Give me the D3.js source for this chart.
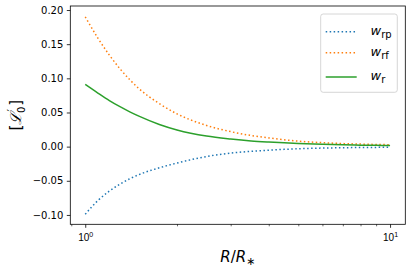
<!DOCTYPE html>
<html>
<head>
<meta charset="utf-8">
<script src="https://cdn.jsdelivr.net/npm/d3@7"></script>
<style>
  body { margin: 0; background: #fff; }
  svg { display: block; font-family: "DejaVu Sans", sans-serif; }
</style>
</head>
<body>
<svg id="chart" width="413" height="272"></svg>
<script>
// values
const radius = [1, 1.1, 1.2, 1.3, 1.4, 1.5, 1.75, 2, 2.5, 3, 3.5, 4, 5, 6, 7, 8, 9, 10];
const wRp = [-0.099, -0.079, -0.065, -0.055, -0.047, -0.041, -0.031, -0.024, -0.0145, -0.0095, -0.0069, -0.0052, -0.0031, -0.0021, -0.0016, -0.0013, -0.0011, -0.0010];
const wRf = [0.190, 0.159, 0.134, 0.114, 0.098, 0.085, 0.063, 0.048, 0.031, 0.022, 0.0163, 0.0128, 0.0080, 0.0058, 0.0045, 0.0037, 0.0032, 0.0028];
const wR  = [0.091, 0.0785, 0.0675, 0.0585, 0.051, 0.0447, 0.0325, 0.0245, 0.0155, 0.0112, 0.0084, 0.0067, 0.0045, 0.0034, 0.0027, 0.0022, 0.0019, 0.0017];
const yTicks = [-0.10, -0.05, 0.00, 0.05, 0.10, 0.15, 0.20];
const xTicks = [1, 10];

const series = [
  {sub: 'rp', values: wRp, color: '#1f77b4', dash: '1.5,2.475'},
  {sub: 'rf', values: wRf, color: '#ff7f0e', dash: '1.5,2.475'},
  {sub: 'r',  values: wR,  color: '#2ca02c', dash: null}
];

const dims = {width: 413, height: 272, left: 70.3, right: 405.3, top: 6, bottom: 224.3};

const svg = d3.select('#chart');

const xScale = d3.scaleLog()
  .domain([Math.pow(10, -0.049), Math.pow(10, 1.05)])
  .range([dims.left, dims.right]);
const yScale = d3.scaleLinear()
  .domain([-0.1137, 0.2059])
  .range([dims.bottom, dims.top]);

const fmt = (v) => v.toFixed(2).replace('-', '\u2212');

// y axis
const yAxis = svg.append('g').attr('transform', `translate(${dims.left},0)`)
  .call(d3.axisLeft(yScale).tickValues(yTicks).tickSize(3.5).tickPadding(3.5).tickFormat(fmt));
yAxis.select('.domain').remove();
yAxis.selectAll('line').attr('stroke', '#000').attr('stroke-width', 0.8);
yAxis.selectAll('text').attr('font-size', 10).attr('fill', '#000')
  .attr('font-family', '"DejaVu Sans", sans-serif');

// x axis, minor ticks
const minor = [0.9];
for (let d = 1; d <= 10; d *= 10)
  for (let k = 2; k < 10; k++)
    minor.push(k * d);
const [lo, hi] = xScale.domain();
const minorTicks = minor.filter(v => v >= lo && v <= hi);

const xMinor = svg.append('g').attr('transform', `translate(0,${dims.bottom})`)
  .call(d3.axisBottom(xScale).tickValues(minorTicks).tickSize(2).tickFormat(''));
xMinor.select('.domain').remove();
xMinor.selectAll('line').attr('stroke', '#000').attr('stroke-width', 0.6);

const xAxis = svg.append('g').attr('transform', `translate(0,${dims.bottom})`)
  .call(d3.axisBottom(xScale).tickValues(xTicks).tickSize(3.5).tickFormat(''));
xAxis.select('.domain').remove();
xAxis.selectAll('line').attr('stroke', '#000').attr('stroke-width', 0.8);
xAxis.selectAll('.tick').each(function(d) {
  const t = d3.select(this).append('text')
    .attr('y', 16.5).attr('text-anchor', 'middle')
    .attr('font-size', 10).attr('fill', '#000');
  t.append('tspan').text('10');
  t.append('tspan').attr('dy', -4).attr('font-size', 7).text(Math.round(Math.log10(d)));
});

// lines
const line = d3.line()
  .x((d, i) => xScale(radius[i]))
  .y(d => yScale(d))
  .curve(d3.curveMonotoneX);

svg.selectAll('.series')
  .data(series)
  .enter()
  .append('path')
  .attr('class', 'series')
  .attr('fill', 'none')
  .attr('stroke', d => d.color)
  .attr('stroke-width', 1.5)
  .attr('stroke-dasharray', d => d.dash)
  .attr('d', d => line(d.values));

// frame
svg.append('rect')
  .attr('x', dims.left).attr('y', dims.top)
  .attr('width', dims.right - dims.left).attr('height', dims.bottom - dims.top)
  .attr('fill', 'none').attr('stroke', '#000').attr('stroke-width', 0.8);

// axis labels
const xl = svg.append('text')
  .attr('x', (dims.left + dims.right) / 2).attr('y', 262)
  .attr('text-anchor', 'middle').attr('font-size', 15);
xl.append('tspan').attr('font-style', 'italic').text('R');
xl.append('tspan').text('/');
xl.append('tspan').attr('font-style', 'italic').text('R');
xl.append('tspan').attr('dy', 3).attr('font-size', 11).text('\u2217');

const yl = svg.append('text')
  .attr('transform', `translate(21,${(dims.top + dims.bottom) / 2}) rotate(-90)`)
  .attr('text-anchor', 'middle').attr('font-size', 15);
yl.append('tspan').text('[');
yl.append('tspan').attr('font-family', '"DejaVu Serif", serif').attr('font-style', 'italic').text('\u2112');
yl.append('tspan').attr('dy', -6).attr('dx', 1).attr('font-size', 11).text('\u2032');
yl.append('tspan').attr('dy', 10).attr('dx', -4).attr('font-size', 10).text('0');
yl.append('tspan').attr('dy', -4).attr('dx', 1).text(']');

// legend
const legend = svg.append('g');
legend.append('rect')
  .attr('x', 320.7).attr('y', 14).attr('width', 76.6).attr('height', 78.3)
  .attr('rx', 2.5)
  .attr('fill', '#fff').attr('fill-opacity', 0.8)
  .attr('stroke', '#cccccc').attr('stroke-width', 0.8);

const rowY = [31.7, 52.7, 77];
series.forEach((s, i) => {
  legend.append('line')
    .attr('x1', 325.7).attr('x2', 356.7)
    .attr('y1', rowY[i]).attr('y2', rowY[i])
    .attr('stroke', s.color).attr('stroke-width', 1.5)
    .attr('stroke-dasharray', s.dash);
  const t = legend.append('text')
    .attr('x', 370.5).attr('y', rowY[i] + 3)
    .attr('font-size', 13);
  t.append('tspan').attr('font-style', 'italic').text('w');
  t.append('tspan').attr('dy', 3).attr('font-size', 10).text(s.sub);
});
</script>
</body>
</html>
